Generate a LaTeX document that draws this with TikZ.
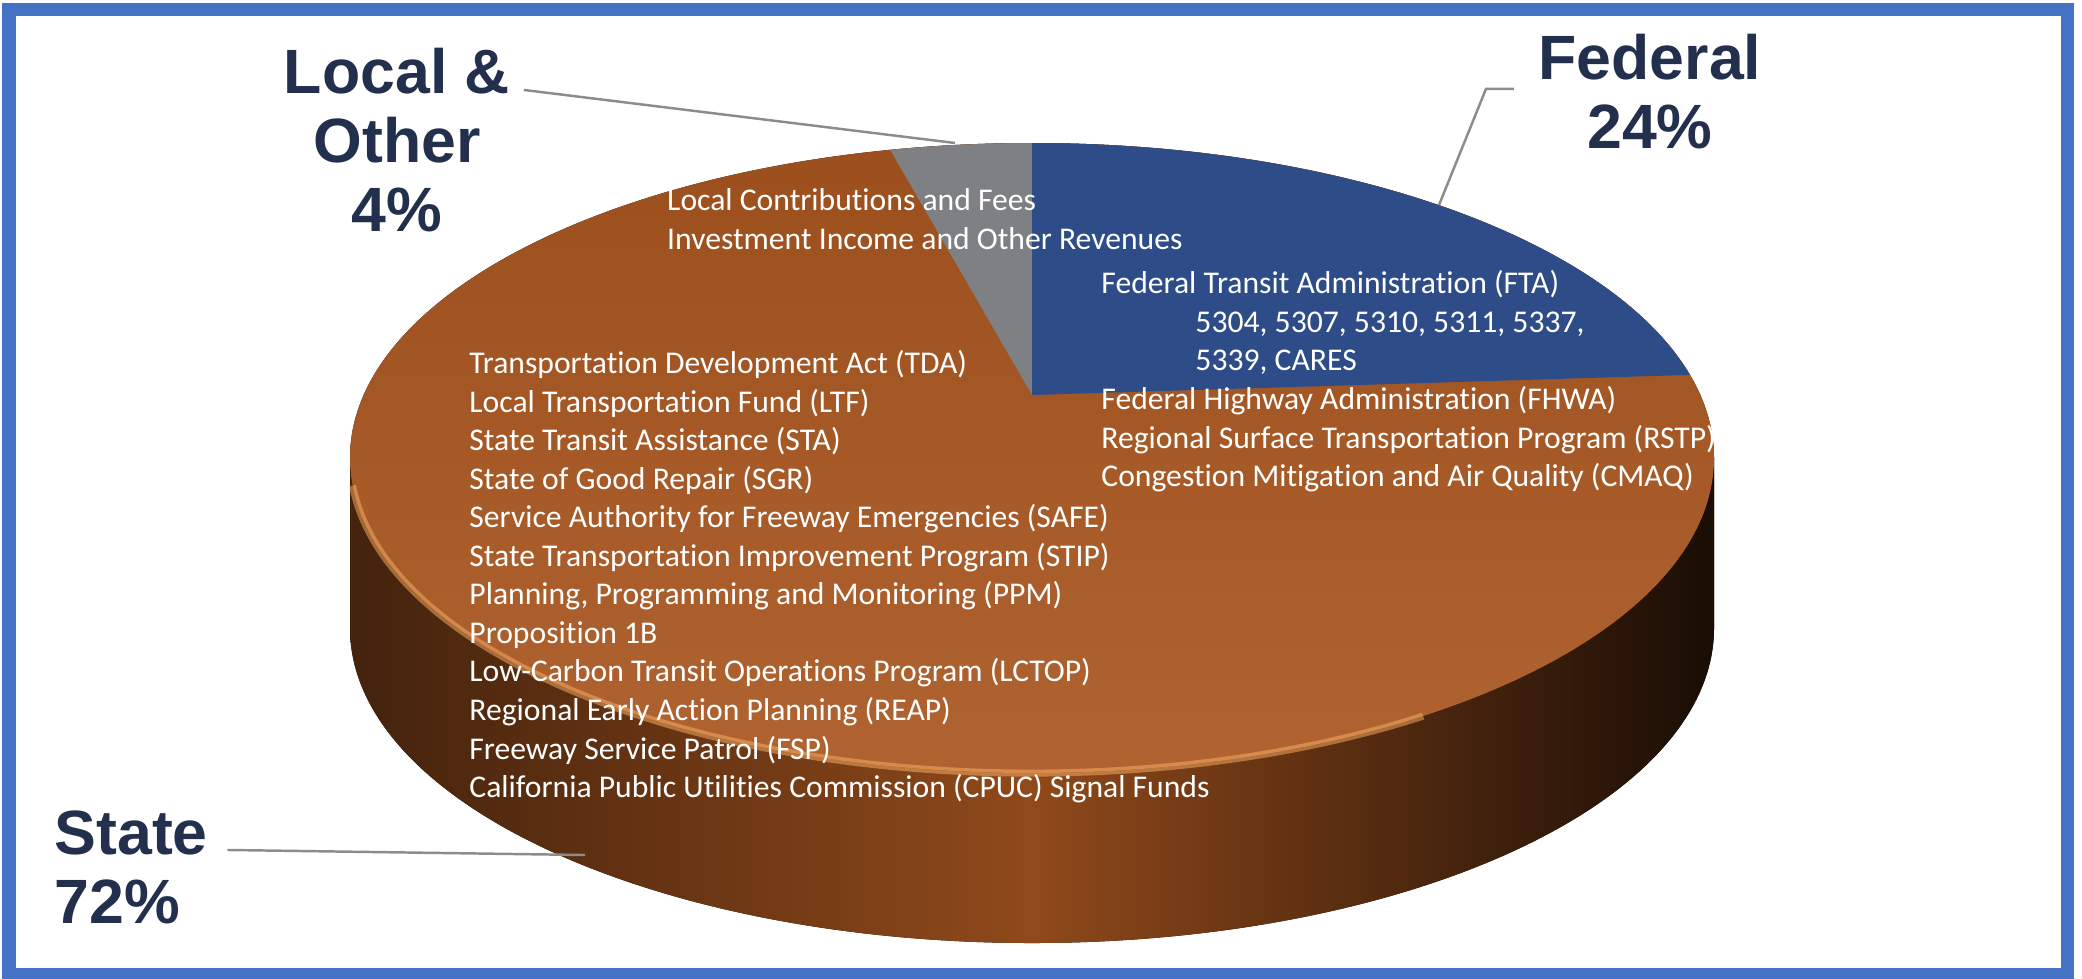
\documentclass[tikz,border=0pt]{standalone}
\usepackage{fontspec}
\setmainfont{Carlito}[Ligatures=NoCommon]
\newfontfamily\labelfont{Liberation Sans}
\definecolor{labelnavy}{HTML}{22304D}
\definecolor{frameblue}{HTML}{4472C4}
\definecolor{fedblue}{HTML}{2D4C88}
\definecolor{localgray}{HTML}{7E8083}
\definecolor{stateorange}{HTML}{A9561F}
\begin{document}
\begin{tikzpicture}[x=0.01cm,y=-0.01cm,
		leader/.style={draw=black!45,line width=0.7pt},
		bigtag/.style={inner sep=0pt,text=labelnavy,font=\labelfont\bfseries\fontsize{17.8}{19.6}\selectfont},
		note/.style={inner sep=0pt,text=white,align=left,anchor=base west,font=\fontsize{9}{10.95}\selectfont}]
		\useasboundingbox (0,0) rectangle (2082,978);
		\fill[color=white] (0,0) rectangle (2082,978);
		\fill[left color=black!60!stateorange,right color=black!85!stateorange,middle color=black!15!stateorange] (350,458) -- (350,628) arc[start angle=180,end angle=0,x radius=682,y radius=315] -- (1714,458) -- cycle;
		\fill[top color=black!8!stateorange,bottom color=white!8!stateorange] (1032,458) ellipse[x radius=682,y radius=315];
		\fill[color=localgray] (1032,395) -- (890.2,149.9) arc[start angle=-102,end angle=-90,x radius=682,y radius=315] -- cycle;
		\fill[color=fedblue] (1032,395) -- (1032,143) arc[start angle=-90,end angle=-15.3,x radius=682,y radius=315] -- cycle;
		\draw[color=orange!60!white,opacity=0.5,line width=2pt] (352.6,485.5) arc[start angle=175,end angle=55,x radius=682,y radius=315];
		\node[note] (localnote) at (666.5,249) {Local Contributions and Fees\\Investment Income and Other Revenues};
		\node[note] (fednote) at (1100.7,486.5) {Federal Transit Administration (FTA)\\\hspace*{0.94cm}5304, 5307, 5310, 5311, 5337,\\\hspace*{0.94cm}5339, CARES\\Federal Highway Administration (FHWA)\\Regional Surface Transportation Program (RSTP)\\Congestion Mitigation and Air Quality (CMAQ)};
		\node[note] (statenote) at (468.7,797.5) {Transportation Development Act (TDA)\\Local Transportation Fund (LTF)\\State Transit Assistance (STA)\\State of Good Repair (SGR)\\Service Authority for Freeway Emergencies (SAFE)\\State Transportation Improvement Program (STIP)\\Planning, Programming and Monitoring (PPM)\\Proposition 1B\\Low-Carbon Transit Operations Program (LCTOP)\\Regional Early Action Planning (REAP)\\Freeway Service Patrol (FSP)\\California Public Utilities Commission (CPUC) Signal Funds};
		\node[bigtag,align=center,anchor=base] (locallbl) at (397,231) {Local \&\\Other\\4\%};
		\node[bigtag,align=center,anchor=base] (fedlbl) at (1650,148) {Federal\\24\%};
		\node[bigtag,align=left,anchor=base west] (statelbl) at (54,923) {State\\72\%};
		\coordinate (localtip) at (955,143);
		\coordinate (fedtip) at (1439,205);
		\coordinate (statetip) at (585,855);
		\draw[leader] ([xshift=0.13cm,yshift=1.41cm]locallbl.base east) -- (localtip);
		\draw[leader] ([xshift=-0.24cm,yshift=0.59cm]fedlbl.base west) -- ++(-28,0) -- (fedtip);
		\draw[leader] ([xshift=0.19cm,yshift=0.73cm]statelbl.base east) -- (statetip);
		\draw[color=frameblue,line width=0.13cm] (9,9.5) rectangle (2067,974.5);
	\end{tikzpicture}
\end{document}
